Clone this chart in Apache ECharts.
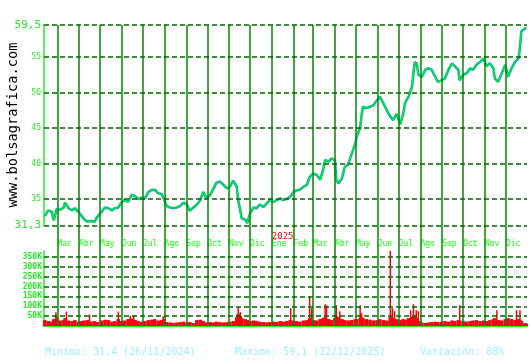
<!DOCTYPE html>
<html><head><meta charset="utf-8">
<script src="https://cdn.jsdelivr.net/npm/echarts@6/dist/echarts.min.js"></script>
<style>html,body{margin:0;padding:0;background:#fff}#c{width:530px;height:360px}</style>
</head><body><div id="c"></div>
<script>
const dates = ['2024-02-12','2024-02-17','2024-02-22','2024-02-25','2024-02-29','2024-03-05','2024-03-10','2024-03-12','2024-03-17','2024-03-22','2024-03-26','2024-03-31','2024-04-04','2024-04-08','2024-04-13','2024-04-18','2024-04-23','2024-04-27','2024-05-03','2024-05-08','2024-05-13','2024-05-18','2024-05-22','2024-05-27','2024-06-01','2024-06-05','2024-06-10','2024-06-15','2024-06-20','2024-06-24','2024-06-29','2024-07-04','2024-07-09','2024-07-14','2024-07-18','2024-07-23','2024-07-28','2024-07-31','2024-08-04','2024-08-09','2024-08-13','2024-08-18','2024-08-23','2024-08-28','2024-09-02','2024-09-06','2024-09-11','2024-09-16','2024-09-21','2024-09-25','2024-09-30','2024-10-05','2024-10-10','2024-10-14','2024-10-19','2024-10-24','2024-10-29','2024-11-02','2024-11-07','2024-11-12','2024-11-14','2024-11-17','2024-11-19','2024-11-24','2024-11-27','2024-12-01','2024-12-06','2024-12-10','2024-12-15','2024-12-20','2024-12-25','2024-12-29','2025-01-03','2025-01-08','2025-01-13','2025-01-17','2025-01-22','2025-01-27','2025-02-01','2025-02-05','2025-02-10','2025-02-15','2025-02-20','2025-02-24','2025-03-01','2025-03-06','2025-03-11','2025-03-15','2025-03-18','2025-03-23','2025-03-27','2025-04-01','2025-04-03','2025-04-06','2025-04-11','2025-04-15','2025-04-20','2025-04-25','2025-04-30','2025-05-02','2025-05-07','2025-05-09','2025-05-11','2025-05-16','2025-05-21','2025-05-26','2025-05-31','2025-06-04','2025-06-09','2025-06-14','2025-06-19','2025-06-23','2025-06-28','2025-07-03','2025-07-07','2025-07-10','2025-07-15','2025-07-20','2025-07-22','2025-07-24','2025-07-27','2025-07-29','2025-07-31','2025-08-03','2025-08-08','2025-08-12','2025-08-17','2025-08-22','2025-08-26','2025-08-31','2025-09-05','2025-09-10','2025-09-15','2025-09-19','2025-09-24','2025-09-26','2025-10-01','2025-10-06','2025-10-11','2025-10-15','2025-10-20','2025-10-25','2025-10-30','2025-11-03','2025-11-08','2025-11-13','2025-11-15','2025-11-20','2025-11-25','2025-11-30','2025-12-04','2025-12-09','2025-12-14','2025-12-19','2025-12-21','2025-12-23','2025-12-28','2025-12-30'];
const closes = [32.6,33.4,33.2,32.0,33.6,33.5,33.8,34.5,33.7,33.4,33.7,33.2,32.7,32.2,31.8,31.9,31.8,32.5,33.2,33.8,33.7,33.4,33.7,33.8,34.6,34.85,34.6,35.6,35.4,35.0,35.2,35.1,36.0,36.3,36.3,35.8,35.7,35.0,34.0,33.8,33.7,33.8,34.0,34.5,34.2,33.35,33.8,34.2,34.85,36.0,35.1,35.6,36.5,37.3,37.45,37.0,36.5,36.7,37.6,36.7,34.85,33.4,32.3,32.1,31.6,33.0,33.8,33.7,34.2,33.9,34.4,34.85,34.6,34.85,35.1,34.85,35.0,35.3,36.0,36.2,36.3,36.7,37.0,38.1,38.6,38.4,37.7,39.1,40.5,40.25,40.7,40.5,37.7,37.2,37.9,39.5,39.9,41.4,42.8,43.8,45.0,46.8,48.0,47.8,48.0,48.2,48.9,49.4,48.5,47.5,46.6,46.1,47.0,45.5,46.8,48.5,49.4,50.8,52.7,54.3,54.0,52.5,52.7,52.2,53.2,53.4,53.2,52.2,51.5,51.7,52.0,53.2,54.1,53.7,53.2,51.7,52.5,52.7,53.4,53.2,53.9,54.3,54.8,53.7,54.1,53.4,52.0,51.5,52.7,53.9,52.2,53.4,54.3,54.8,56.4,58.6,59.0,59.1];
const volumesK = [30,25,22,35,45,28,30,40,28,25,30,22,25,28,30,22,25,20,28,32,30,22,25,35,25,28,35,38,30,25,22,25,30,32,35,28,30,35,20,18,15,18,20,22,18,20,15,30,32,25,18,20,18,22,20,18,20,22,25,45,60,50,40,35,30,25,28,25,22,20,18,20,22,20,25,22,25,30,28,25,22,28,30,40,30,28,35,40,45,35,30,40,50,45,35,30,28,30,35,35,40,45,40,35,32,28,30,35,30,28,45,40,35,30,35,32,40,45,50,45,40,25,22,18,15,18,20,22,20,22,25,22,28,25,30,28,25,22,25,28,30,25,28,25,30,35,40,30,28,35,40,35,30,35,30,25,15,12];
const spikeDates = ['2024-02-28','2024-03-14','2024-04-16','2024-05-27','2024-06-13','2024-06-18','2024-07-30','2024-11-14','2024-11-17','2025-01-28','2025-02-24','2025-02-27','2025-03-18','2025-03-20','2025-04-03','2025-04-08','2025-05-07','2025-05-09','2025-06-19','2025-06-22','2025-06-25','2025-07-18','2025-07-22','2025-07-26','2025-07-29','2025-09-26','2025-11-18','2025-12-16','2025-12-21'];
const spikeVolumesK = [70,73,58,73,52,55,50,93,70,90,150,90,110,105,105,75,105,65,380,90,75,80,110,80,75,105,80,80,80];
const priceTicks = [31.3,35,40,45,50,55,59.5];
const volumeTicksK = [50,100,150,200,250,300,350];
const monthNames = ['Ene','Feb','Mar','Abr','May','Jun','Jul','Ago','Sep','Oct','Nov','Dic'];
const yearLabel = '2025';
const footer = ['Minimo: 31,4 (26/11/2024)','Maximo: 59,1 (22/12/2025)','Variación: 88%'];
const siteName = 'www.bolsagrafica.com';

function ts(s){const p=s.split('-').map(Number);return new Date(p[0],p[1]-1,p[2]).getTime();}
const xMin = ts('2024-02-11'), xMax = ts('2025-12-31');
const monthStarts = [];
for (let y=2024, m=2; y<2025 || (y===2025 && m<=11); ) { monthStarts.push(new Date(y,m,1).getTime()); m++; if(m>11){m=0;y++;} }
const jan2025 = new Date(2025,0,1).getTime();

const priceData = dates.map((d,i)=>[ts(d),closes[i]]);
const volData = dates.map((d,i)=>[ts(d),volumesK[i]]);
const spikeData = spikeDates.map((d,i)=>[ts(d),spikeVolumesK[i]]);

const MONO = '"DejaVu Sans Mono", monospace';
const LIME = '#22ee22';
const dash = {color:'#006400', width:1.5, type:[5,3]};
const vline = {color:'#008a00', width:1.5, type:'solid'};
const baseX = {type:'value',min:xMin,max:xMax,axisLine:{show:false},axisTick:{show:false},splitLine:{show:false}};

const chart = echarts.init(document.getElementById('c'), null, {renderer:'canvas'});
chart.setOption({
  animation:false,
  backgroundColor:'#ffffff',
  grid:[
    {left:44,right:3,top:25,bottom:134.7},
    {left:44,right:3,top:251,bottom:34},
    {left:44,right:3,top:25,bottom:34}
  ],
  xAxis:[
    Object.assign({gridIndex:0,
      axisLabel:{customValues:monthStarts,hideOverlap:false,showMinLabel:true,showMaxLabel:true,align:'left',margin:15,color:'#11ff11',fontSize:8,fontFamily:MONO,
        formatter:v=>monthNames[new Date(v).getMonth()]}},baseX),
    Object.assign({gridIndex:0,position:'bottom',
      axisLabel:{customValues:[jan2025],hideOverlap:false,align:'left',margin:7,color:'#ff0000',fontSize:9,fontFamily:MONO,formatter:()=>yearLabel}},baseX),
    {gridIndex:1,type:'value',min:xMin,max:xMax,axisLine:{show:true,onZero:false,lineStyle:{color:LIME,width:2}},axisTick:{show:false},splitLine:{show:false},axisLabel:{show:false}},
    {gridIndex:1,type:'value',min:xMin,max:xMax,show:false},
    {gridIndex:2,type:'value',min:xMin,max:xMax,show:false}
  ],
  yAxis:[
    {gridIndex:0,type:'value',min:31.3,max:59.5,axisLine:{show:true,lineStyle:{color:LIME,width:1.5}},axisTick:{show:false},splitLine:{show:false},
      axisLabel:{customValues:priceTicks,margin:3,fontFamily:MONO,
        formatter:v=>{const s=String(v).replace('.',','); return (v===31.3||v===59.5)?'{b|'+s+'}':'{s|'+s+'}';},
        rich:{b:{fontSize:11,color:LIME,fontFamily:MONO},s:{fontSize:8,color:LIME,fontFamily:MONO}}}},
    {gridIndex:1,type:'value',min:0,max:380,axisLine:{show:true,lineStyle:{color:LIME,width:1.5}},axisTick:{show:false},splitLine:{show:false},
      axisLabel:{customValues:volumeTicksK,margin:2,color:LIME,fontSize:8,fontWeight:'bold',fontFamily:MONO,formatter:v=>v+'K'}},
    {gridIndex:2,type:'value',min:0,max:1,show:false}
  ],
  series:[
    {type:'line',xAxisIndex:4,yAxisIndex:2,data:[],z:1,silent:true,
      markLine:{silent:true,symbol:'none',label:{show:false},animation:false,
        data:monthStarts.map(t=>({xAxis:t,lineStyle:vline}))}},
    {type:'line',xAxisIndex:0,yAxisIndex:0,data:[],z:1,silent:true,
      markLine:{silent:true,symbol:'none',label:{show:false},animation:false,
        data:priceTicks.map(v=>({yAxis:v,lineStyle:dash}))}},
    {type:'line',xAxisIndex:2,yAxisIndex:1,data:[],z:1,silent:true,
      markLine:{silent:true,symbol:'none',label:{show:false},animation:false,
        data:volumeTicksK.map(v=>({yAxis:v,lineStyle:dash}))}},
    {type:'line',xAxisIndex:0,yAxisIndex:0,data:priceData,showSymbol:false,z:3,
      lineStyle:{color:'#12a7b4',width:2.6}},
    {type:'line',xAxisIndex:0,yAxisIndex:0,data:priceData,showSymbol:false,z:4,
      lineStyle:{color:'#00ff00',width:1}},
    {type:'bar',xAxisIndex:2,yAxisIndex:1,data:volData,barWidth:3.5,z:3,itemStyle:{color:'#ff0000'}},
    {type:'bar',xAxisIndex:3,yAxisIndex:1,data:spikeData,barWidth:1.5,z:3,itemStyle:{color:'#ff0000'}}
  ],
  graphic:[
    {type:'text',x:13,y:125,rotation:Math.PI/2,style:{text:siteName,font:'13.7px '+MONO,fill:'#000000',align:'center',verticalAlign:'middle'}},
    {type:'text',x:45,y:352,style:{text:footer[0],font:'10px '+MONO,fill:'#a0eeff',verticalAlign:'middle'}},
    {type:'text',x:235,y:352,style:{text:footer[1],font:'10px '+MONO,fill:'#a0eeff',verticalAlign:'middle'}},
    {type:'text',x:420,y:352,style:{text:footer[2],font:'10px '+MONO,fill:'#a0eeff',verticalAlign:'middle'}}
  ]
});
</script></body></html>
